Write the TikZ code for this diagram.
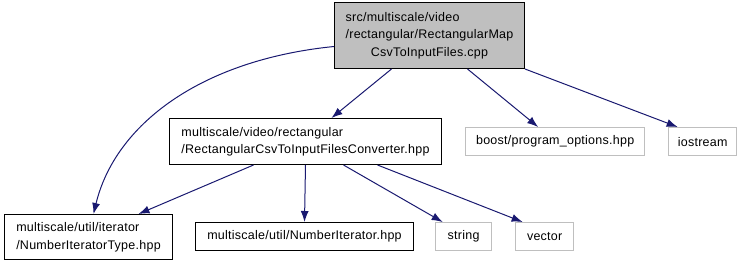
\documentclass[tikz,border=0pt]{standalone}
\usepackage{fontspec}
\newfontfamily\dotfont{Liberation Sans}[LetterSpace=2]
\usetikzlibrary{arrows.meta}
\definecolor{edgeblue}{HTML}{191970}
\definecolor{extgray}{HTML}{BFBFBF}
\tikzset{
  file/.style={draw=black,line width=1pt,anchor=north west,align=left,inner sep=0pt,
    font=\dotfont\fontsize{12.5}{17.5}\selectfont},
  extfile/.style={file,draw=extgray,line width=1.3pt},
  incl/.style={draw=edgeblue,line width=1pt,-{Latex[length=11pt,width=8pt]}}
}
\begin{document}
\begin{tikzpicture}[x=1pt,y=-1pt]
\useasboundingbox (0,0) rectangle (745,267);
% the source file and what it includes
\node[file,fill=extgray,minimum width=190pt,minimum height=66pt] (main) at (334,2)
  {\begin{tabular}{@{}l@{}}src/multiscale/video\\/rectangular/RectangularMap\\
   \multicolumn{1}{@{}c@{}}{CsvToInputFiles.cpp}\end{tabular}};
\node[file,minimum width=272pt,minimum height=46pt] (conv) at (169,118)
  {\begin{tabular}{@{}l@{}}multiscale/video/rectangular\\/RectangularCsvToInputFilesConverter.hpp\end{tabular}};
\node[file,minimum width=168pt,minimum height=45pt] (itertype) at (4,214)
  {\begin{tabular}{@{}l@{}}multiscale/util/iterator\\/NumberIteratorType.hpp\end{tabular}};
\node[file,minimum width=218pt,minimum height=28pt] (numit) at (195,222)
  {multiscale/util/NumberIterator.hpp};
\node[extfile,minimum width=56pt,minimum height=28pt] (string) at (435,222) {string};
\node[extfile,minimum width=58pt,minimum height=28pt] (vector) at (515,222) {vector};
\node[extfile,minimum width=179pt,minimum height=28pt] (boost) at (465,127) {boost/program\_options.hpp};
\node[extfile,minimum width=68pt,minimum height=28pt] (iostream) at (668,127) {iostream};
% include edges
\draw[incl] ([xshift=-38pt]main.south) -- ([xshift=26pt]conv.north);
\draw[incl] ([yshift=-11pt]main.west) .. controls (200,60) and (115,125) .. ([xshift=5pt]itertype.north);
\draw[incl] ([xshift=38pt]main.south) -- ([xshift=-17pt]boost.north);
\draw[incl] (main.south east) -- ([xshift=-25pt]iostream.north);
\draw[incl] ([xshift=-52pt]conv.south) -- ([xshift=50pt]itertype.north);
\draw[incl] (conv.south) -- (numit.north);
\draw[incl] ([xshift=38pt]conv.south) -- ([xshift=-21pt]string.north);
\draw[incl] ([xshift=72pt]conv.south) -- ([xshift=-22pt]vector.north);
\end{tikzpicture}
\end{document}
